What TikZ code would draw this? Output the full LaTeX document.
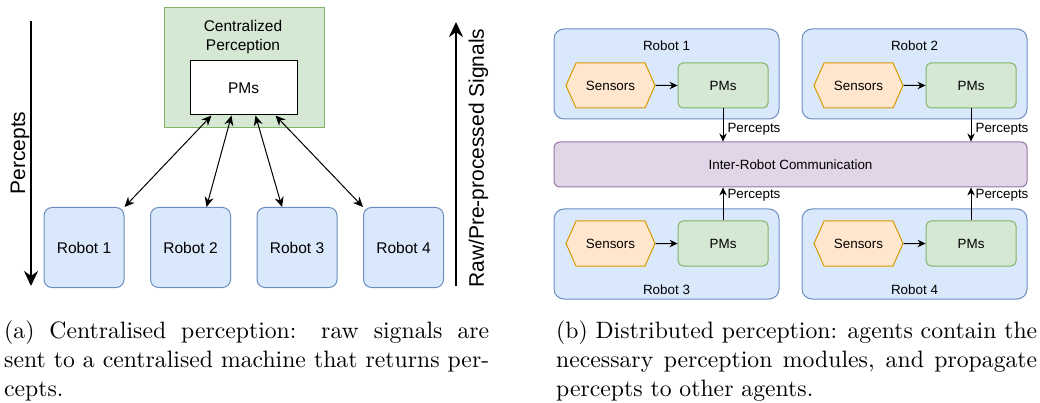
\documentclass[tikz,border=0pt]{standalone}
\usepackage{fontspec}
\newfontfamily\dioFont{Liberation Sans}
\newfontfamily\capFont{lmroman10-regular.otf}
\usetikzlibrary{arrows.meta,positioning,shapes.symbols}

\definecolor{rbFill}{HTML}{DAE8FC}
\definecolor{rbLine}{HTML}{6C8EBF}
\definecolor{gnFill}{HTML}{D5E8D4}
\definecolor{gnLine}{HTML}{82B366}
\definecolor{orFill}{HTML}{FFE6CC}
\definecolor{orLine}{HTML}{D79B00}
\definecolor{puFill}{HTML}{E1D5E7}
\definecolor{puLine}{HTML}{9673A6}

\begin{document}
\begin{tikzpicture}[
    x=1pt, y=-1pt,
    node distance=22pt and 22pt,
    big/.style={font=\dioFont\fontsize{15.5}{19.5}\selectfont},
    small/.style={font=\dioFont\fontsize{13.4}{16}\selectfont},
    robot/.style={big, draw=rbLine, fill=rbFill, line width=1pt, rounded corners=8pt,
        minimum width=80pt, minimum height=80pt},
    central/.style={draw=gnLine, fill=gnFill, line width=1pt, minimum width=160pt, minimum height=120pt},
    pmwhite/.style={big, draw=black, fill=white, line width=1pt, minimum width=107pt, minimum height=54pt},
    side/.style={font=\dioFont\fontsize{21}{24}\selectfont, rotate=90},
    unit/.style={draw=rbLine, fill=rbFill, line width=1pt, rounded corners=10pt,
        minimum width=225pt, minimum height=90pt},
    sensor/.style={small, draw=orLine, fill=orFill, line width=1pt, signal, signal to=west and east,
        signal pointer angle=132, minimum width=89pt, minimum height=45pt, inner sep=0pt},
    pmbox/.style={small, draw=gnLine, fill=gnFill, line width=1pt, rounded corners=5pt,
        minimum width=90pt, minimum height=45pt},
    comm/.style={small, draw=puLine, fill=puFill, line width=1pt, rounded corners=6pt,
        minimum width=473pt, minimum height=45pt},
    flow/.style={-{Stealth[length=8pt,width=7.5pt]}, line width=1pt},
    both/.style={{Stealth[length=10pt,width=9pt]}-{Stealth[length=10pt,width=9pt]}, line width=1pt},
    bigflow/.style={-{Stealth[length=15pt,width=14pt]}, line width=2pt},
    caption/.style={font=\capFont\fontsize{23.7}{28.7}\selectfont, align=justify,
        inner sep=0pt, anchor=north west}
]
\useasboundingbox (0,0) rectangle (1040,403);

% (a) centralised
\node[central] (cp) at (244,68) {};
\node[big, align=center] (cptitle) at (243,37) {Centralized\\Perception};
\node[pmwhite] (pmc) at (243.5,88) {PMs};

\node[robot] (r1) at (84,247.5) {Robot 1};
\node[robot, right=25.5pt of r1] (r2) {Robot 2};
\node[robot, right=25.5pt of r2] (r3) {Robot 3};
\node[robot, right=25.5pt of r3] (r4) {Robot 4};

\draw[both] ([xshift=-32pt]pmc.south) -- (r1.north east);
\draw[both] ([xshift=-12pt]pmc.south) -- ([xshift=16pt]r2.north);
\draw[both] ([xshift=12pt]pmc.south) -- ([xshift=-15pt]r3.north);
\draw[both] ([xshift=32pt]pmc.south) -- (r4.north west);

\coordinate (pcTop) at (31,21);
\coordinate (pcBot) at (31,286);
\draw[bigflow] (pcTop) -- (pcBot);
\node[side] (pcLbl) at (20,153) {Percepts};

\coordinate (rwBot) at (456,286);
\coordinate (rwTop) at (456,22);
\draw[bigflow] (rwBot) -- (rwTop);
\node[side] (rwLbl) at (478.5,158) {Raw/Pre-processed Signals};

% (b) distributed
\node[unit] (u1) at (666.5,74) {};
\node[unit, right=of u1] (u2) {};
\node[comm] (irc) at (790.5,164.5) {Inter-Robot Communication};
\node[unit] (u3) at (666.5,254) {};
\node[unit, right=of u3] (u4) {};

\node[small] (t1) at ([yshift=-17pt]u1.north) {Robot 1};
\node[small] (t2) at ([yshift=-17pt]u2.north) {Robot 2};
\node[small] (t3) at ([yshift=10pt]u3.south) {Robot 3};
\node[small] (t4) at ([yshift=10pt]u4.south) {Robot 4};

\node[sensor] (s1) at (610.5,85.5) {Sensors};
\node[pmbox, right=of s1] (p1) {PMs};
\node[sensor] (s2) at (858.5,85.5) {Sensors};
\node[pmbox, right=of s2] (p2) {PMs};
\node[sensor] (s3) at (610.5,243.5) {Sensors};
\node[pmbox, right=of s3] (p3) {PMs};
\node[sensor] (s4) at (858.5,243.5) {Sensors};
\node[pmbox, right=of s4] (p4) {PMs};

\draw[flow] (s1) -- (p1);
\draw[flow] (s2) -- (p2);
\draw[flow] (s3) -- (p3);
\draw[flow] (s4) -- (p4);

\draw[flow] (p1) -- (p1 |- irc.north) node[small, pos=.62, right, inner sep=4pt] (l1) {Percepts};
\draw[flow] (p2) -- (p2 |- irc.north) node[small, pos=.62, right, inner sep=4pt] (l2) {Percepts};
\draw[flow] (p3) -- (p3 |- irc.south) node[small, pos=.75, right, inner sep=4pt] (l3) {Percepts};
\draw[flow] (p4) -- (p4 |- irc.south) node[small, pos=.75, right, inner sep=4pt] (l4) {Percepts};

% captions
\node[caption, text width=485pt] (capa) at (4,321)
    {(a) Centralised perception: raw signals are\linebreak sent to a centralised machine that returns per-\linebreak cepts.};
\node[caption, text width=481pt] (capb) at (556,321)
    {(b) Distributed perception: agents contain the\linebreak necessary perception modules, and propagate\linebreak percepts to other agents.};
\end{tikzpicture}
\end{document}
